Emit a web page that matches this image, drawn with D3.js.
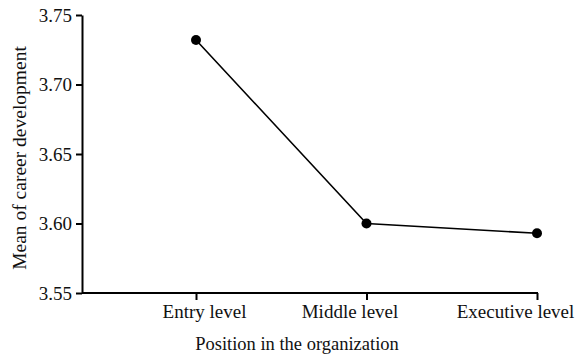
<!DOCTYPE html>
<html><head><meta charset="utf-8">
<script src="https://cdn.jsdelivr.net/npm/d3@7"></script>
<style>body{margin:0;background:#fff}svg{display:block}svg text{font-family:"Liberation Serif","Times New Roman",serif !important}</style>
</head><body><svg id="c" width="584" height="356"></svg>
<script>
const categories = ["Entry level", "Middle level", "Executive level"];
const values = [3.732, 3.600, 3.593];
const yTicks = [3.55, 3.60, 3.65, 3.70, 3.75];
const labelShift = [8, -17, -22];

const svg = d3.select("#c");
const x0 = 82, yBottom = 293, yTop = 15;
const x = d3.scalePoint().domain(categories).range([196, 537]);
const y = d3.scaleLinear().domain([3.55, 3.75]).range([yBottom, yTop]);

const yAxis = svg.append("g").attr("transform", `translate(${x0},0)`)
  .call(d3.axisLeft(y).tickValues(yTicks).tickFormat(d3.format(".2f")).tickSize(6).tickSizeOuter(0));
const xAxis = svg.append("g").attr("transform", `translate(0,${yBottom})`)
  .call(d3.axisBottom(x).tickSize(7).tickSizeOuter(0));
xAxis.select(".domain").attr("d", `M${x0},0H${x.range()[1] + 1}`);
[yAxis, xAxis].forEach(g => {
  g.attr("font-family", null);
  g.selectAll(".domain").attr("stroke", "#000").attr("stroke-width", 2);
  g.selectAll(".tick line").attr("stroke", "#000").attr("stroke-width", 2);
  g.selectAll(".tick text").attr("font-size", 19).attr("fill", "#111");
});
yAxis.selectAll(".tick text").attr("x", -10).attr("dy", "0.33em");
xAxis.selectAll(".tick text").attr("y", 12).attr("dx", (d, i) => labelShift[i]);

const line = d3.line().x((d, i) => x(categories[i])).y(d => y(d));
svg.append("path").datum(values).attr("d", line).attr("fill", "none").attr("stroke", "#000").attr("stroke-width", 1.6);
svg.selectAll("circle.pt").data(values).join("circle").attr("class", "pt")
  .attr("cx", (d, i) => x(categories[i])).attr("cy", d => y(d)).attr("r", 5).attr("fill", "#000");

svg.append("text").attr("x", 297).attr("y", 350).attr("text-anchor", "middle").attr("font-size", 18.5).attr("fill", "#111")
  .text("Position in the organization");
svg.append("text").attr("transform", "translate(26,158) rotate(-90)").attr("text-anchor", "middle").attr("font-size", 19.5).attr("fill", "#111")
  .text("Mean of career development");
</script></body></html>
